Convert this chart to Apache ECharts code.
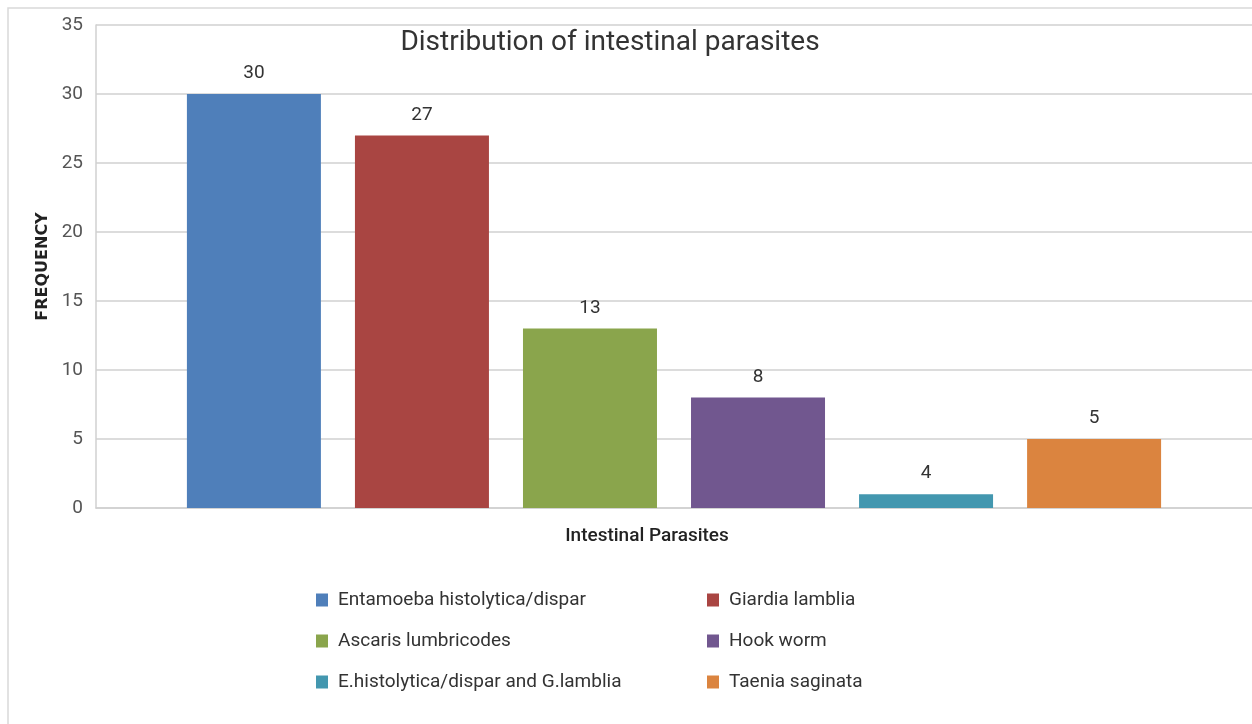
<!DOCTYPE html>
<html>
<head>
<meta charset="utf-8">
<script src="https://cdn.jsdelivr.net/npm/echarts@6/dist/echarts.min.js"></script>
<style>
  html, body { margin: 0; padding: 0; background: #fff; }
  #chart { width: 1252px; height: 724px; }
</style>
</head>
<body>
<div id="chart"></div>
<script>
// data
var categories = ['Intestinal Parasites'];
var parasites = [
  'Entamoeba histolytica/dispar',
  'Giardia lamblia',
  'Ascaris lumbricodes',
  'Hook worm',
  'E.histolytica/dispar and G.lamblia',
  'Taenia saginata'
];
var frequency = [30, 27, 13, 8, 1, 5];
// printed labels (the teal bar is drawn at 1 but labelled 4 in the original)
var valueLabels = ['30', '27', '13', '8', '4', '5'];
var colors = ['#4F7FBA', '#A94542', '#8AA54C', '#71578F', '#4397AF', '#DB843F'];

var chart = echarts.init(document.getElementById('chart'));

var series = parasites.map(function (name, i) {
  return {
    name: name,
    type: 'bar',
    data: [frequency[i]],
    barWidth: 134,
    barGap: '25.4%',
    itemStyle: { color: colors[i] },
    label: {
      show: true,
      position: 'top',
      distance: 11,
      color: '#333',
      fontSize: 19,
      fontFamily: 'Roboto',
      formatter: function () { return valueLabels[i]; }
    }
  };
});

var legendStyle = {
  orient: 'vertical',
  itemWidth: 12,
  itemHeight: 13,
  itemGap: 21,
  icon: 'rect',
  textStyle: { fontSize: 19, lineHeight: 20, color: '#333', fontFamily: 'Roboto', padding: [0, 0, 0, 5] }
};

var option = {
  animation: false,
  backgroundColor: '#fff',
  graphic: [{
    type: 'rect',
    shape: { x: 8, y: 8, width: 1260, height: 730 },
    style: { fill: 'none', stroke: '#d9d9d9', lineWidth: 1.5 },
    z: -1
  }],
  title: {
    text: 'Distribution of intestinal parasites',
    left: 605,
    top: 24,
    textAlign: 'center',
    textStyle: { fontSize: 28, fontWeight: 'normal', color: '#333', fontFamily: 'Roboto' }
  },
  legend: [
    Object.assign({ left: 311, top: 585, data: [parasites[0], parasites[2], parasites[4]] }, legendStyle),
    Object.assign({ left: 702, top: 585, data: [parasites[1], parasites[3], parasites[5]] }, legendStyle)
  ],
  grid: { left: 96, right: 0, top: 25, bottom: 216, containLabel: false },
  xAxis: {
    type: 'category',
    data: categories,
    name: 'Intestinal Parasites',
    nameLocation: 'middle',
    nameGap: 19,
    nameTextStyle: { fontSize: 19, fontWeight: 500, color: '#222', fontFamily: 'Roboto', padding: [0, 54, 0, 0] },
    axisLine: { lineStyle: { color: '#d0d0d0', width: 1.5 } },
    axisTick: { show: false },
    axisLabel: { show: false }
  },
  yAxis: {
    type: 'value',
    min: 0,
    max: 35,
    interval: 5,
    name: 'FREQUENCY',
    nameLocation: 'middle',
    nameGap: 44,
    nameTextStyle: { fontSize: 16, fontWeight: 'bold', color: '#222', fontFamily: 'DejaVu Sans' },
    axisLine: { show: true, lineStyle: { color: '#d0d0d0', width: 1.5 } },
    axisTick: { show: false },
    axisLabel: { fontSize: 19, color: '#555', margin: 13, fontFamily: 'Roboto' },
    splitLine: { lineStyle: { color: '#d0d0d0', width: 1.5 } }
  },
  series: series
};

chart.setOption(option);
</script>
</body>
</html>
